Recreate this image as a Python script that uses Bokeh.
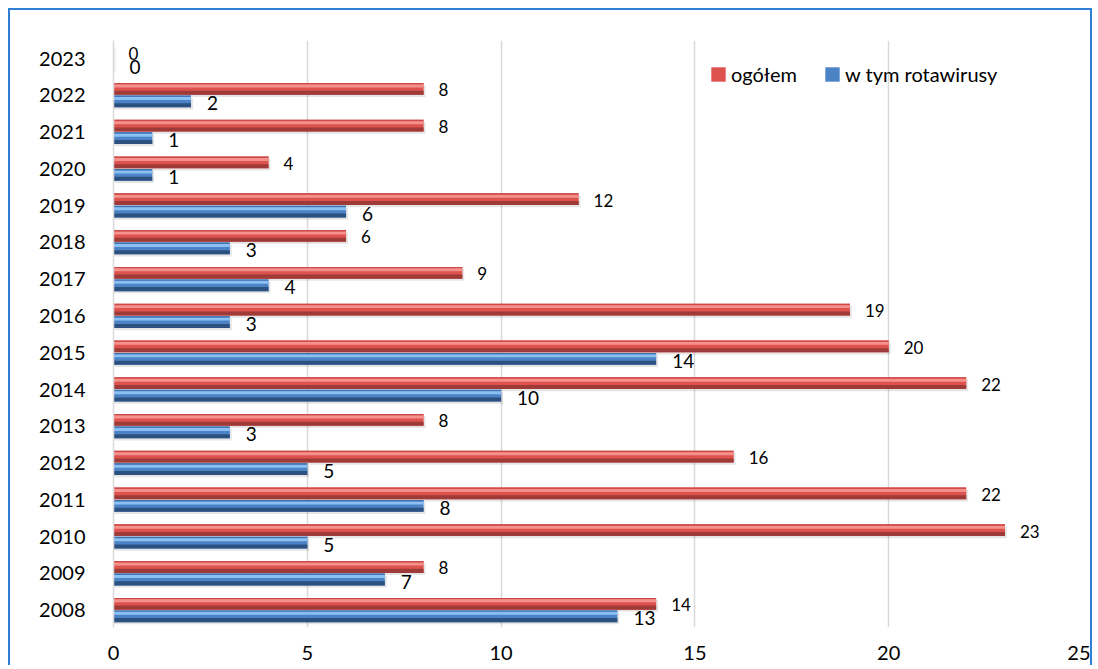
from bokeh.plotting import figure
from bokeh.models import ColumnDataSource, FixedTicker, Legend, LegendItem
from bokeh.transform import dodge
from bokeh.embed import file_html
from bokeh.resources import INLINE
from bokeh.core.properties import value

years = [2008, 2009, 2010, 2011, 2012, 2013, 2014, 2015, 2016, 2017, 2018, 2019, 2020, 2021, 2022, 2023]
ogolem = [14, 8, 23, 22, 16, 8, 22, 20, 19, 9, 6, 12, 4, 8, 8, 0]
rotawirusy = [13, 7, 5, 8, 5, 3, 10, 14, 3, 4, 3, 6, 1, 1, 2, 0]
series_names = ["ogółem", "w tym rotawirusy"]
x_ticks = [0, 5, 10, 15, 20, 25]

FONT = "Lato"
RED_OFF = 0.175
BLUE_OFF = -0.165
H = 0.32

p = figure(width=1084, height=657, x_range=(0, 25), y_range=(2007.53, 2023.49),
           output_backend="svg", toolbar_location=None,
           min_border_left=103, min_border_right=12, min_border_top=30, min_border_bottom=40)
p.styles = {"margin-left": "8px", "margin-top": "8px",
            "border-top": "2px solid #2F7FD6", "border-left": "2px solid #2F7FD6",
            "border-right": "2px solid #2F7FD6"}
p.outline_line_color = None
p.background_fill_color = "white"

src = ColumnDataSource(dict(years=years, ogolem=ogolem, rota=rotawirusy,
                            ogolem_lbl=[str(v) for v in ogolem],
                            rota_lbl=[str(v) for v in rotawirusy]))

yr = p.y_range


def bevel_bar(col, off, main, light, dark, edge):
    # soft shadow
    p.hbar(y=dodge("years", off - 0.06, range=yr), right=dodge(col, 0.05, range=p.x_range),
           left=0.02, height=H, source=src, fill_color="#000000", fill_alpha=0.10,
           line_color=None)
    main_r = p.hbar(y=dodge("years", off, range=yr), right=col, left=0, height=H, source=src,
                    fill_color=main, line_color=None)
    p.hbar(y=dodge("years", off + H / 2 - 0.08, range=yr), right=col, left=0, height=0.08,
           source=src, fill_color=light, line_color=None)
    p.hbar(y=dodge("years", off + H / 2 - 0.015, range=yr), right=col, left=0, height=0.03,
           source=src, fill_color=edge, line_color=None)
    p.hbar(y=dodge("years", off - H / 2 + 0.055, range=yr), right=col, left=0, height=0.11,
           source=src, fill_color=dark, line_color=None)
    return main_r


r_red = bevel_bar("ogolem", RED_OFF, "#DE524E", "#F4918D", "#9E3A37", "#C94A47")
r_blue = bevel_bar("rota", BLUE_OFF, "#4C83C6", "#8CC0F3", "#2C5080", "#3E6FAD")

p.text(x="ogolem", y=dodge("years", RED_OFF, range=yr), text="ogolem_lbl", source=src,
       x_offset=15, y_offset=1, text_font=value(FONT), text_font_size="17px",
       text_baseline="middle", text_color="#000000")
p.text(x="rota", y=dodge("years", BLUE_OFF, range=yr), text="rota_lbl", source=src,
       x_offset=16, y_offset=2, text_font=value(FONT), text_font_size="19px",
       text_baseline="middle", text_color="#000000")

p.xgrid.ticker = FixedTicker(ticks=x_ticks)
p.xgrid.grid_line_color = "#D9D9D9"
p.xgrid.grid_line_width = 1.5
p.ygrid.grid_line_color = None

p.xaxis.ticker = FixedTicker(ticks=x_ticks)
p.xaxis.axis_line_color = None
p.xaxis.major_tick_line_color = None
p.xaxis.minor_tick_line_color = None
p.xaxis.major_label_standoff = 12
p.xaxis.major_label_text_font = FONT
p.xaxis.major_label_text_font_size = "20px"
p.xaxis.major_label_text_color = "#000000"

p.yaxis.ticker = FixedTicker(ticks=years)
p.yaxis.axis_line_color = "#D9D9D9"
p.yaxis.axis_line_width = 1.5
p.yaxis.major_tick_line_color = None
p.yaxis.minor_tick_line_color = None
p.yaxis.major_label_standoff = 22
p.yaxis.major_label_text_font = FONT
p.yaxis.major_label_text_font_size = "20px"
p.yaxis.major_label_text_color = "#000000"

legend = Legend(items=[LegendItem(label=series_names[0], renderers=[r_red]),
                       LegendItem(label=series_names[1], renderers=[r_blue])],
                location=(596, 541), orientation="horizontal")
legend.padding = 0
legend.margin = 0
legend.spacing = 26
legend.label_standoff = 4
legend.glyph_width = 18
legend.glyph_height = 18
legend.label_text_font = FONT
legend.label_text_font_size = "20px"
legend.label_text_color = "#000000"
legend.background_fill_alpha = 0
legend.border_line_color = None
p.add_layout(legend)

open("out.html", "w").write(file_html(p, INLINE))
